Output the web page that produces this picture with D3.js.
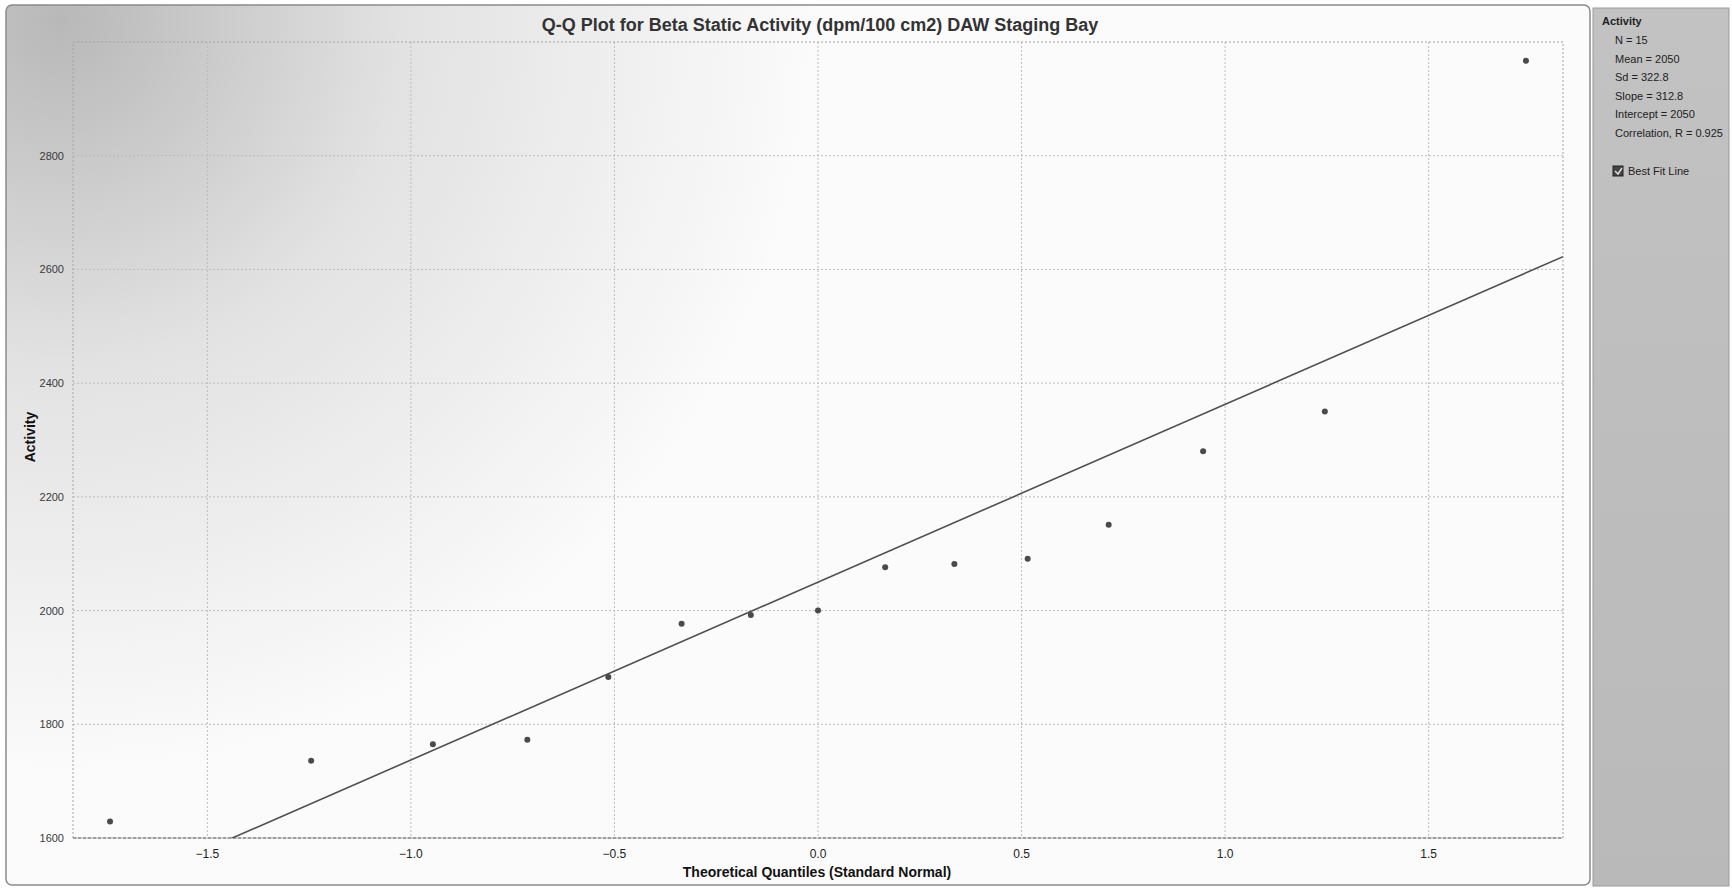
<!DOCTYPE html>
<html lang="en">
<head>
<meta charset="UTF-8">
<title>Q-Q Plot for Beta Static Activity</title>
<style>
    body { margin: 0; padding: 0; background: #ffffff; font-family: Arial, "Liberation Sans", sans-serif; }
    #chart { width: 1732px; height: 888px; }
    .grid line { stroke: #bcbcbc; stroke-width: 1px; stroke-dasharray: 2,2; }
    .tick-y { font-size: 11px; fill: #3a3a3a; text-anchor: end; }
    .tick-x { font-size: 12px; fill: #222; text-anchor: middle; }
    .axis-title { font-size: 14px; font-weight: bold; fill: #111; text-anchor: middle; }
    .stat { font-size: 11px; fill: #222; }
</style>
</head>
<body>
<div id="chart"></div>
<script src="https://d3js.org/d3.v7.min.js"></script>
<script>
    // theoretical normal quantiles and the sorted sample values
    const quantiles = [-1.739, -1.245, -0.946, -0.714, -0.515, -0.335, -0.165, 0, 0.165, 0.335, 0.515, 0.714, 0.946, 1.245, 1.739];
    const activity = [1629, 1736, 1765, 1773, 1883, 1977, 1992, 2000, 2076, 2082, 2091, 2151, 2280, 2350, 2967];
    const xTicks = [-1.5, -1.0, -0.5, 0.0, 0.5, 1.0, 1.5];
    const yTicks = [1600, 1800, 2000, 2200, 2400, 2600, 2800];
    const fitSlope = 312.8;
    const fitIntercept = 2050;
    const statLines = ["N = 15", "Mean = 2050", "Sd = 322.8", "Slope = 312.8", "Intercept = 2050", "Correlation, R = 0.925"];

    const W = 1732, H = 888;
    const plot = { left: 73, right: 1563, top: 42, bottom: 838 };

    const svg = d3.select("#chart").append("svg")
        .attr("width", W)
        .attr("height", H);

    const defs = svg.append("defs");
    const bg = defs.append("radialGradient")
        .attr("id", "bgGrad")
        .attr("gradientUnits", "userSpaceOnUse")
        .attr("cx", 60).attr("cy", 20).attr("r", 760);
    bg.append("stop").attr("offset", "0%").attr("stop-color", "#b8b8b8");
    bg.append("stop").attr("offset", "45%").attr("stop-color", "#e2e2e2");
    bg.append("stop").attr("offset", "100%").attr("stop-color", "#fbfbfb");

    const side = defs.append("linearGradient")
        .attr("id", "sideGrad")
        .attr("x1", 0).attr("y1", 0).attr("x2", 0).attr("y2", 1);
    side.append("stop").attr("offset", "0%").attr("stop-color", "#c2c2c2");
    side.append("stop").attr("offset", "100%").attr("stop-color", "#b9b9b9");

    defs.append("clipPath").attr("id", "plotClip")
        .append("rect")
        .attr("x", plot.left).attr("y", plot.top)
        .attr("width", plot.right - plot.left)
        .attr("height", plot.bottom - plot.top);

    // main frame
    svg.append("rect")
        .attr("x", 6).attr("y", 5)
        .attr("width", 1584).attr("height", 880)
        .attr("rx", 6)
        .attr("fill", "url(#bgGrad)")
        .attr("stroke", "#8a8a8a")
        .attr("stroke-width", 1.5);

    // side panel
    svg.append("rect")
        .attr("x", 1593).attr("y", 8)
        .attr("width", 136).attr("height", 878)
        .attr("fill", "url(#sideGrad)")
        .attr("stroke", "#9a9a9a");

    const x = d3.scaleLinear()
        .domain([-1.83, 1.83])
        .range([plot.left, plot.right]);

    const y = d3.scaleLinear()
        .domain([1600, 3000])
        .range([plot.bottom, plot.top]);

    // grid
    const grid = svg.append("g").attr("class", "grid");
    grid.selectAll(".gx").data(xTicks).enter().append("line")
        .attr("x1", d => x(d)).attr("x2", d => x(d))
        .attr("y1", plot.top).attr("y2", plot.bottom);
    grid.selectAll(".gy").data(yTicks).enter().append("line")
        .attr("x1", plot.left).attr("x2", plot.right)
        .attr("y1", d => y(d)).attr("y2", d => y(d));

    // plot border
    svg.append("rect")
        .attr("x", plot.left).attr("y", plot.top)
        .attr("width", plot.right - plot.left)
        .attr("height", plot.bottom - plot.top)
        .attr("fill", "none")
        .attr("stroke", "#a4a4a4")
        .attr("stroke-dasharray", "2,2");
    svg.append("line")
        .attr("x1", plot.left).attr("x2", plot.right)
        .attr("y1", plot.bottom).attr("y2", plot.bottom)
        .attr("stroke", "#8c8c8c")
        .attr("stroke-width", 1.5)
        .attr("stroke-dasharray", "3,2");

    // tick labels
    svg.selectAll(".tick-y").data(yTicks).enter().append("text")
        .attr("class", "tick-y")
        .attr("x", 64)
        .attr("y", d => y(d) + 4)
        .text(d => d);

    svg.selectAll(".tick-x").data(xTicks).enter().append("text")
        .attr("class", "tick-x")
        .attr("x", d => x(d))
        .attr("y", 858)
        .text(d => d3.format(".1f")(d));

    // best fit line
    const xd = x.domain();
    svg.append("line")
        .attr("clip-path", "url(#plotClip)")
        .attr("x1", x(xd[0])).attr("y1", y(fitIntercept + fitSlope * xd[0]))
        .attr("x2", x(xd[1])).attr("y2", y(fitIntercept + fitSlope * xd[1]))
        .attr("stroke", "#505050")
        .attr("stroke-width", 1.6);

    // points
    svg.selectAll("circle.pt").data(activity).enter().append("circle")
        .attr("class", "pt")
        .attr("cx", (d, i) => x(quantiles[i]))
        .attr("cy", d => y(d))
        .attr("r", 3)
        .attr("fill", "#4a4a4a");

    // titles
    svg.append("text")
        .attr("x", 820).attr("y", 31)
        .attr("text-anchor", "middle")
        .style("font-size", "18px")
        .style("font-weight", "bold")
        .style("fill", "#333")
        .text("Q-Q Plot for Beta Static Activity (dpm/100 cm2) DAW Staging Bay");

    svg.append("text")
        .attr("class", "axis-title")
        .attr("x", 817).attr("y", 877)
        .text("Theoretical Quantiles (Standard Normal)");

    svg.append("text")
        .attr("class", "axis-title")
        .attr("transform", "translate(35,437) rotate(-90)")
        .text("Activity");

    // side panel text
    svg.append("text")
        .attr("class", "stat")
        .attr("x", 1602).attr("y", 25)
        .style("font-weight", "bold")
        .text("Activity");

    svg.selectAll(".statline").data(statLines).enter().append("text")
        .attr("class", "stat")
        .attr("x", 1615)
        .attr("y", (d, i) => 44 + i * 18.6)
        .text(d => d);

    svg.append("rect")
        .attr("x", 1613).attr("y", 166)
        .attr("width", 10).attr("height", 10)
        .attr("fill", "#444")
        .attr("stroke", "#222");
    svg.append("path")
        .attr("d", "M1615,171 L1618,174 L1622,168")
        .attr("fill", "none")
        .attr("stroke", "#ddd")
        .attr("stroke-width", 1.5);
    svg.append("text")
        .attr("class", "stat")
        .attr("x", 1628).attr("y", 175)
        .text("Best Fit Line");
</script>
</body>
</html>
